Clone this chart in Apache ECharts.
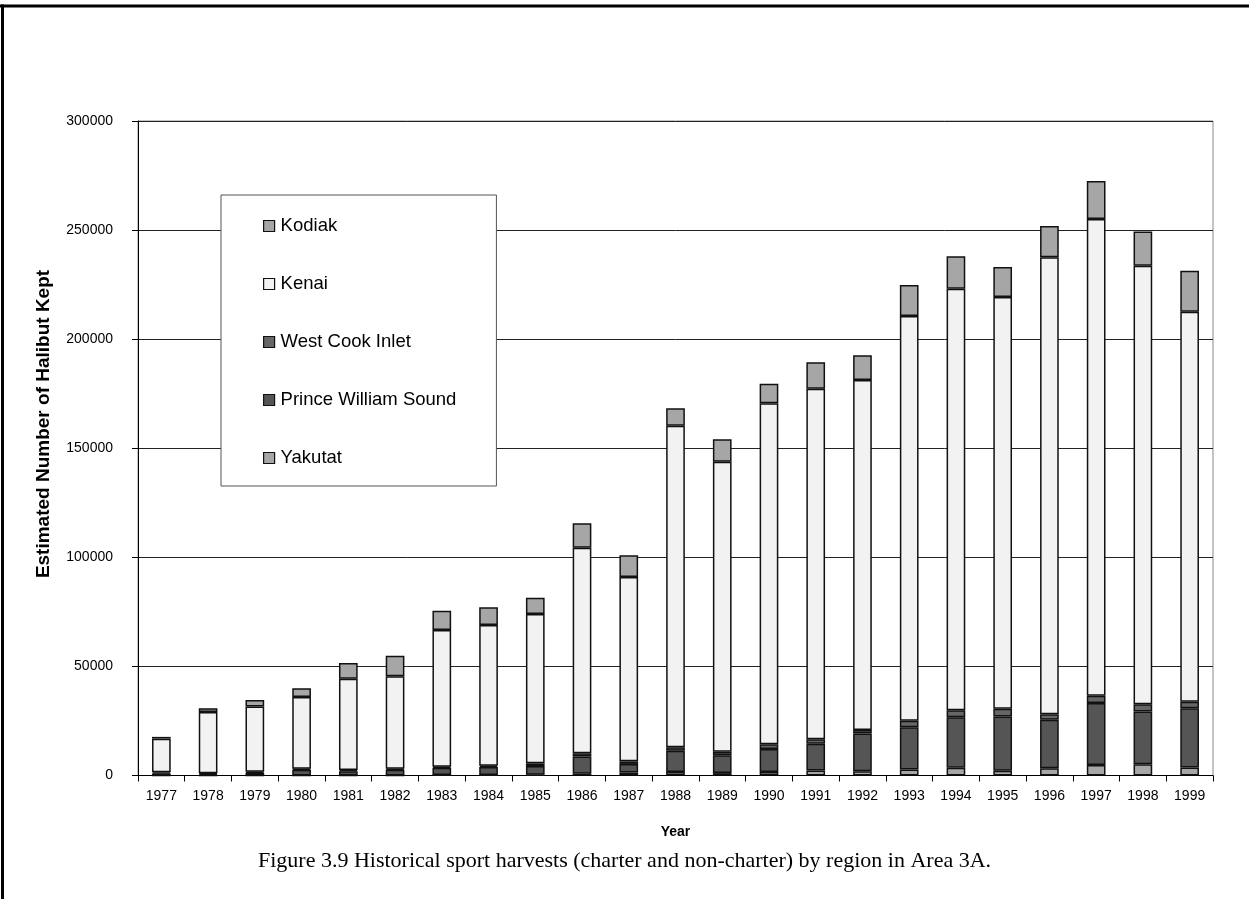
<!DOCTYPE html>
<html>
<head>
<meta charset="utf-8">
<script src="https://cdn.jsdelivr.net/npm/echarts@6/dist/echarts.min.js"></script>
<style>
html,body{margin:0;padding:0;background:#fff;}
#chart{width:1249px;height:899px;}
</style>
</head>
<body>
<div id="chart"></div>
<script>
const years = ['1977','1978','1979','1980','1981','1982','1983','1984','1985','1986','1987','1988','1989','1990','1991','1992','1993','1994','1995','1996','1997','1998','1999'];
const yakutat = [0,0,0,0,0,0,200,200,300,800,1400,1600,1100,1600,2300,1900,2700,3600,2200,3300,4800,5100,3700];
const princeWilliamSound = [900,600,1200,2600,2000,2600,3300,3700,4000,7900,3900,9700,8200,10600,12300,17300,19400,23100,24900,22200,28400,24200,27100];
const westCookInlet = [600,400,500,500,500,500,500,600,1300,1500,1200,1600,1600,2100,2000,1700,3000,3200,3500,2550,3350,3350,3000];
const kenai = [15400,28050,29900,32900,41870,42360,62700,64500,68400,94200,84500,147450,132900,156300,160700,160400,185530,193250,188750,209500,218550,201050,178800];
const kodiak = [800,1800,3060,4000,7160,9440,8850,8100,7500,11200,9900,7950,10300,9000,12100,11300,14220,14850,13750,14350,17400,15600,18800];
const yTicks = [0,50000,100000,150000,200000,250000,300000];

const FONT = 'Liberation Sans, Arial, sans-serif';
const chart = echarts.init(document.getElementById('chart'));
function bar(name, data, color){
  return {
    name: name, type: 'bar', stack: 'total', data: data, barWidth: '40%',
    itemStyle: {color: color, borderColor: '#111', borderWidth: 1.5},
    emphasis: {disabled: true}
  };
}
chart.setOption({
  animation: false,
  backgroundColor: '#fff',
  grid: {left: 138, right: 36, top: 121, bottom: 123.5, show: true, borderColor: '#8a8a8a', borderWidth: 1, backgroundColor: 'transparent'},
  legend: {
    orient: 'vertical', left: 221, top: 195,
    data: ['Kodiak','Kenai','West Cook Inlet','Prince William Sound','Yakutat'],
    icon: 'rect', itemWidth: 11, itemHeight: 11, itemGap: 38,
    padding: [21, 40, 18, 42],
    backgroundColor: '#fff', borderColor: '#555', borderWidth: 1,
    textStyle: {fontFamily: FONT, fontSize: 18.5, lineHeight: 20, color: '#000', padding: [0,0,0,1]},
    itemStyle: {borderColor: '#111', borderWidth: 1.2},
    selectedMode: false
  },
  xAxis: {
    type: 'category', data: years,
    axisLine: {lineStyle: {color: '#000', width: 1}},
    axisTick: {show: true, length: 6, inside: false, lineStyle: {color: '#000'}},
    axisLabel: {fontFamily: FONT, fontSize: 14, color: '#000', margin: 14, interval: 0},
    name: 'Year', nameLocation: 'middle', nameGap: 50,
    nameTextStyle: {fontFamily: FONT, fontSize: 14, fontWeight: 'bold', color: '#000'}
  },
  yAxis: {
    type: 'value', min: yTicks[0], max: yTicks[yTicks.length - 1], interval: yTicks[1] - yTicks[0],
    axisLine: {show: true, lineStyle: {color: '#000', width: 1}},
    axisTick: {show: true, length: 6, lineStyle: {color: '#000'}},
    axisLabel: {fontFamily: FONT, fontSize: 14, color: '#000', margin: 25, formatter: function(v){ return String(v); }},
    splitLine: {show: true, lineStyle: {color: '#222', width: 1}}
  },
  series: [
    bar('Yakutat', yakutat, '#a6a6a6'),
    bar('Prince William Sound', princeWilliamSound, '#555555'),
    bar('West Cook Inlet', westCookInlet, '#666666'),
    bar('Kenai', kenai, '#f2f2f2'),
    bar('Kodiak', kodiak, '#a6a6a6')
  ],
  graphic: [
    {type: 'line', shape: {x1: 0, y1: 6, x2: 1249, y2: 6}, style: {stroke: '#000', lineWidth: 3}},
    {type: 'line', shape: {x1: 2.5, y1: 4.5, x2: 2.5, y2: 899}, style: {stroke: '#000', lineWidth: 3}},
    {type: 'text', x: 44, y: 424, rotation: Math.PI / 2,
     style: {text: 'Estimated Number of Halibut Kept', font: 'bold 19px "Liberation Sans", Arial, sans-serif', fill: '#000', align: 'center', verticalAlign: 'middle'}},
    {type: 'text', left: 'center', top: 850, style: {text: 'Figure 3.9 Historical sport harvests (charter and non-charter) by region in Area 3A.', font: '22px "Liberation Serif", "Times New Roman", serif', fill: '#000'}}
  ]
});
</script>
</body>
</html>
